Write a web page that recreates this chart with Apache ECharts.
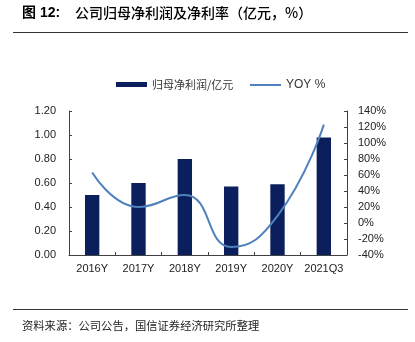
<!DOCTYPE html>
<html><head><meta charset="utf-8">
<script src="https://cdn.jsdelivr.net/npm/echarts@6/dist/echarts.min.js"></script>
<style>html,body{margin:0;padding:0;background:#fff}#c{width:415px;height:342px}</style>
</head><body><div id="c"></div>
<script>
var categories = ['2016Y','2017Y','2018Y','2019Y','2020Y','2021Q3'];
var profit = [0.50, 0.60, 0.80, 0.57, 0.59, 0.98];
var yoy = [63, 20, 35, -30, 9, 123];
var leftTicks = {min: 0, max: 1.2, interval: 0.2};
var rightTicks = {min: -40, max: 140, interval: 20};

var FONT = '"Liberation Sans", Arial, "Noto Sans CJK SC", sans-serif';
var chart = echarts.init(document.getElementById('c'), null, {renderer: 'canvas'});
chart.setOption({
  animation: false,
  backgroundColor: '#fff',
  textStyle: {fontFamily: FONT},
  graphic: [
    {type: 'text', left: 22, top: 6, style: {text: '图 12:', font: 'bold 14px ' + FONT, fill: '#000'}},
    {type: 'text', left: 75, top: 6, style: {text: '公司归母净利润及净利率（亿元，%）', font: '500 14px "Noto Sans CJK SC", sans-serif', fill: '#000'}},
    {type: 'line', shape: {x1: 13, y1: 32.5, x2: 408, y2: 32.5}, style: {stroke: '#333', lineWidth: 1.2}},
    {type: 'line', shape: {x1: 13, y1: 309.5, x2: 408, y2: 309.5}, style: {stroke: '#333', lineWidth: 1.2}},
    {type: 'text', left: 22, top: 320, style: {text: '资料来源：公司公告，国信证券经济研究所整理', font: '11.3px "Noto Sans CJK SC", sans-serif', fill: '#222'}}
  ],
  legend: [
    {data: ['归母净利润/亿元'], left: 111, top: 74, itemWidth: 31, itemHeight: 5, icon: 'rect', itemGap: 0,
     textStyle: {fontSize: 11, color: '#333', fontFamily: '"Noto Sans CJK SC", sans-serif'}},
    {data: ['YOY %'], left: 245, top: 74, itemWidth: 31, itemHeight: 2, icon: 'rect', itemGap: 0,
     textStyle: {fontSize: 12, color: '#333', fontFamily: FONT}}
  ],
  grid: {left: 69, right: 68, top: 111, bottom: 87, containLabel: false},
  xAxis: {
    type: 'category', data: categories, boundaryGap: true,
    axisLine: {lineStyle: {color: '#404040', width: 1}},
    axisTick: {show: true, inside: true, length: 3, alignWithLabel: false, interval: 0, lineStyle: {color: '#404040'}},
    axisLabel: {color: '#222', fontSize: 11, margin: 8, interval: 0, fontFamily: FONT},
    splitLine: {show: false}
  },
  yAxis: [
    {type: 'value', min: leftTicks.min, max: leftTicks.max, interval: leftTicks.interval,
     axisLine: {show: true, lineStyle: {color: '#404040'}},
     axisTick: {show: true, inside: true, length: 3, lineStyle: {color: '#404040'}},
     axisLabel: {color: '#222', fontSize: 11, margin: 13, fontFamily: FONT, formatter: function(v){return v.toFixed(2);}},
     splitLine: {show: false}},
    {type: 'value', min: rightTicks.min, max: rightTicks.max, interval: rightTicks.interval, position: 'right',
     axisLine: {show: true, lineStyle: {color: '#404040'}},
     axisTick: {show: true, inside: true, length: 3, lineStyle: {color: '#404040'}},
     axisLabel: {color: '#222', fontSize: 11, margin: 11, fontFamily: FONT, formatter: '{value}%'},
     splitLine: {show: false}}
  ],
  series: [
    {name: '归母净利润/亿元', type: 'bar', data: profit, barWidth: '31%', yAxisIndex: 0,
     itemStyle: {color: '#0a1f5c'}},
    {name: 'YOY %', type: 'line', data: yoy, yAxisIndex: 1, smooth: 0.5, symbol: 'none',
     lineStyle: {color: '#4f81bd', width: 2}, itemStyle: {color: '#4f81bd'}}
  ]
});
</script></body></html>
